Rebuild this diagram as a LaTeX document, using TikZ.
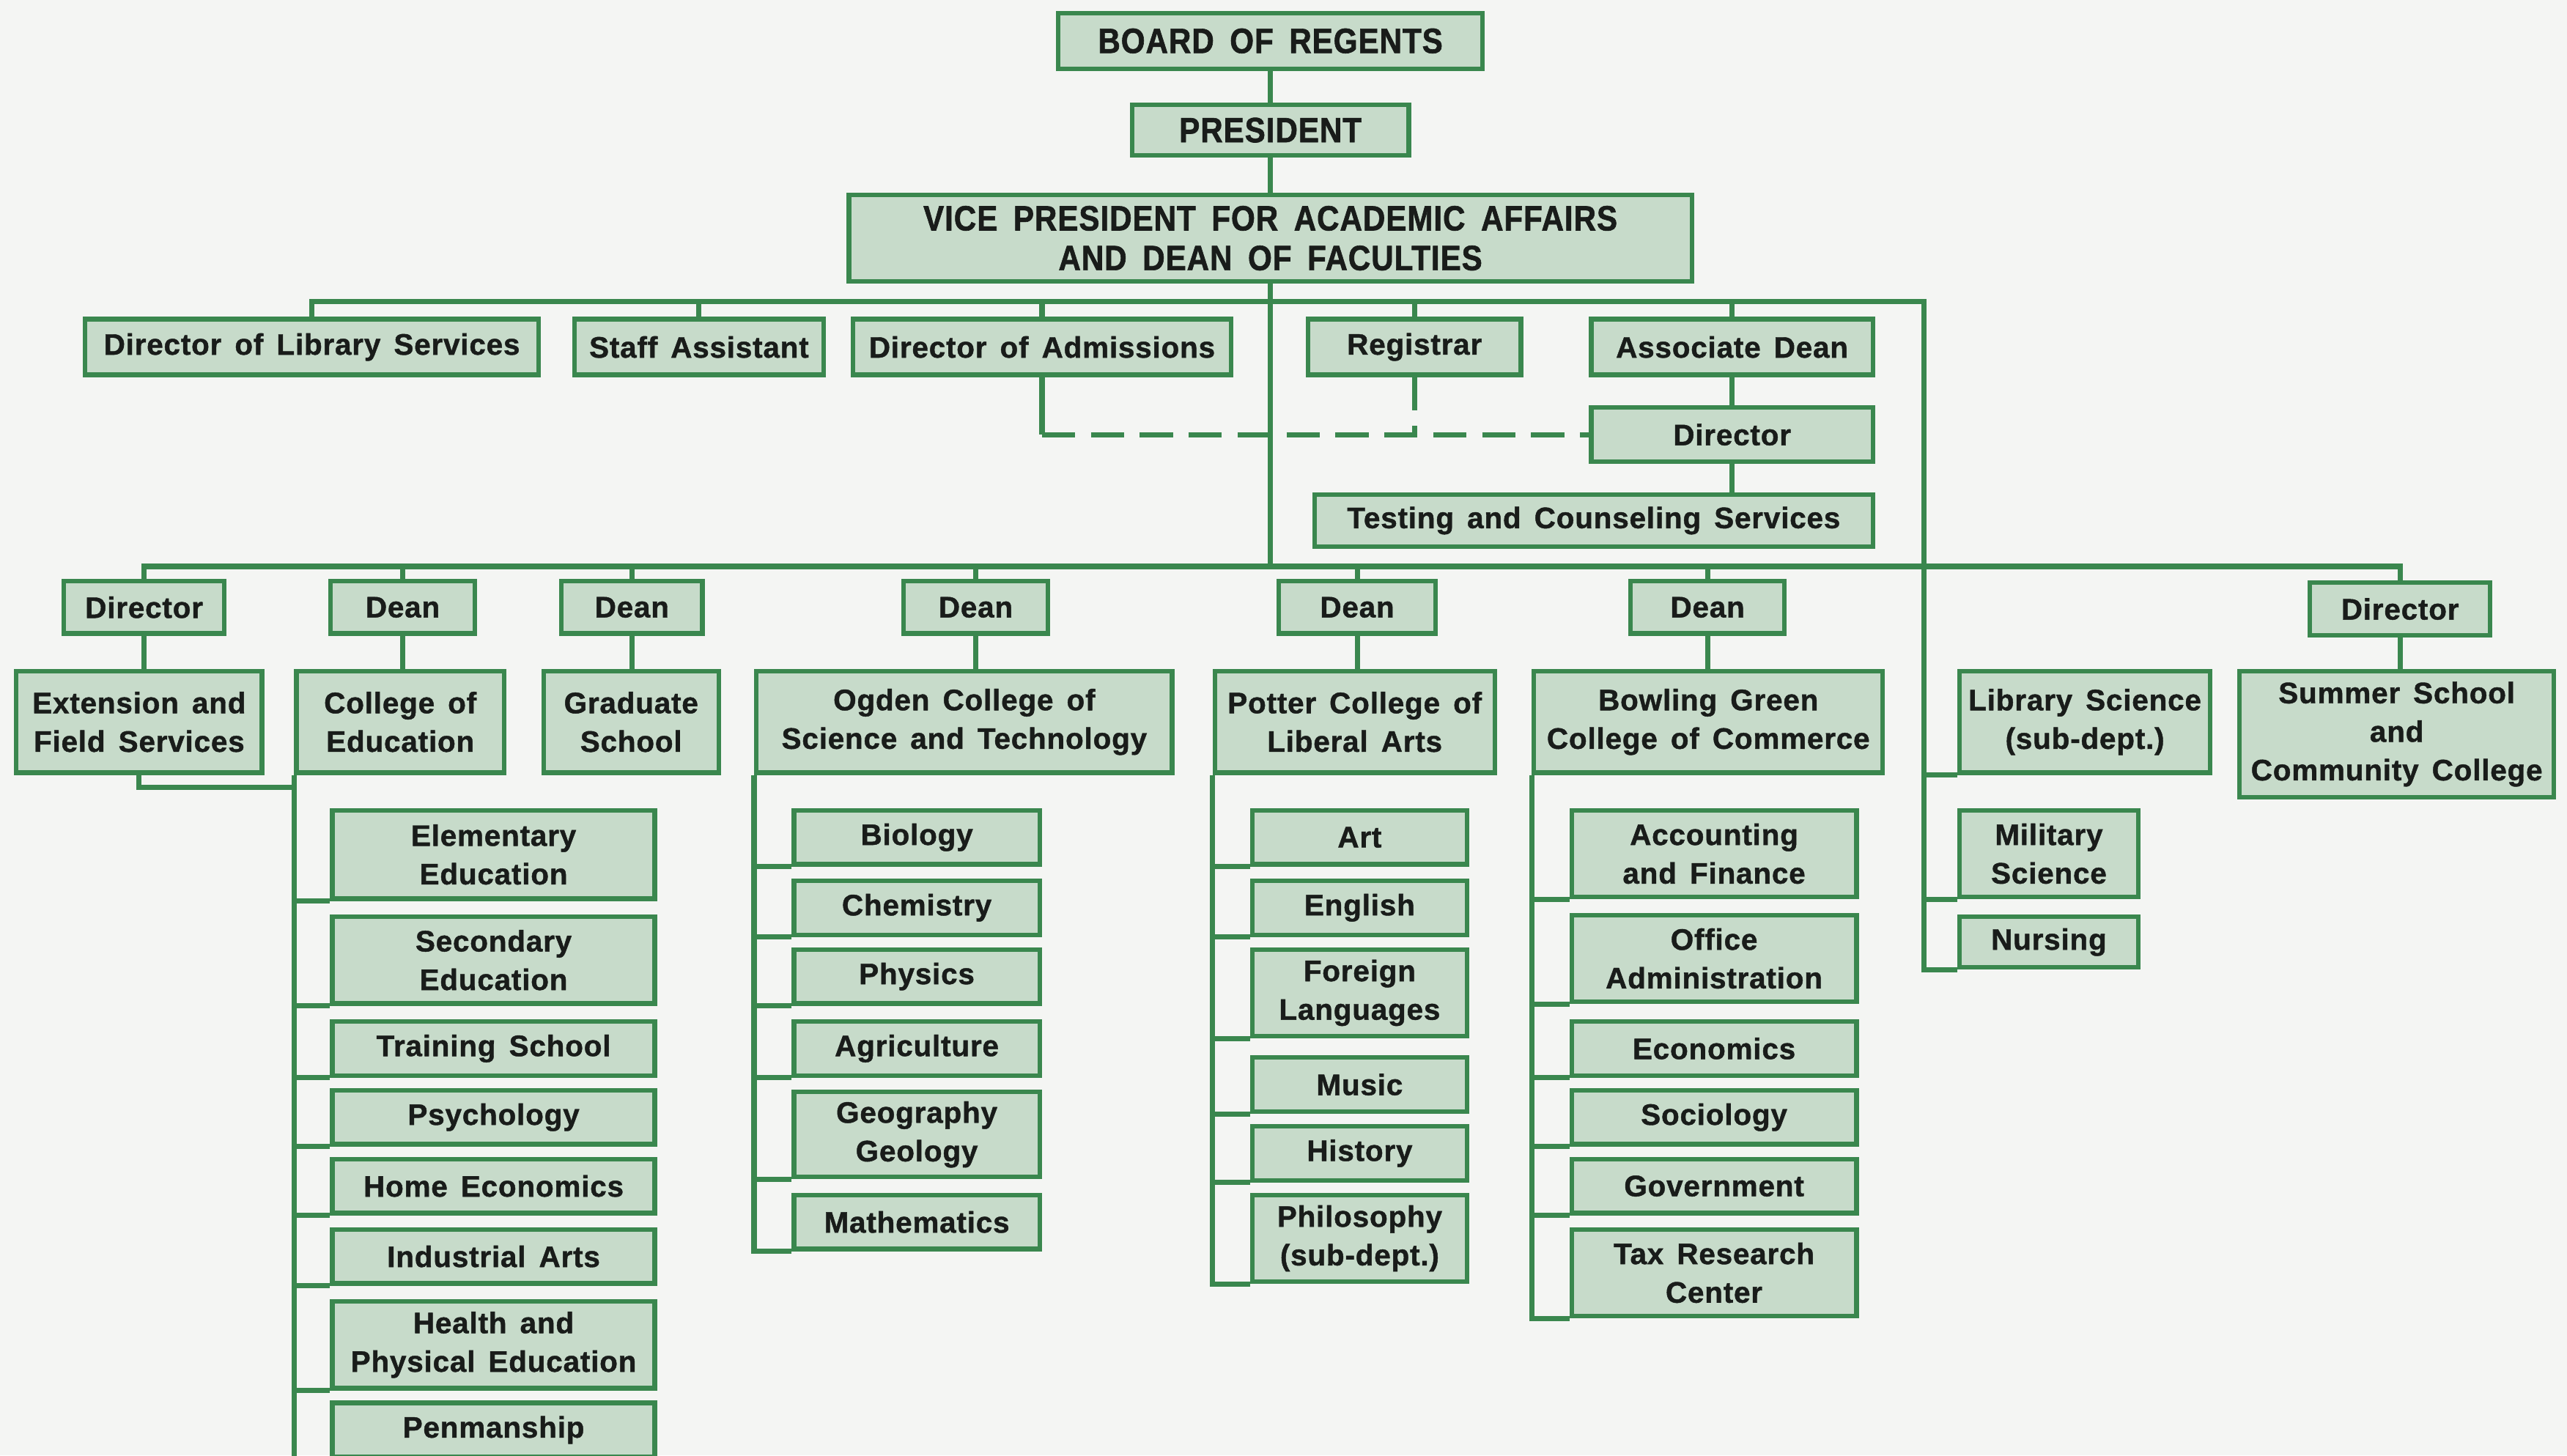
\documentclass[tikz,border=0pt]{standalone}
\usepackage{fontspec}
\setmainfont{Liberation Sans}[LetterSpace=2, WordSpace=1.5, BoldFeatures={FakeBold=1.1}]
\newfontfamily\capsfont{Liberation Sans}[FakeStretch=0.88, LetterSpace=2, WordSpace=1.7, BoldFeatures={FakeBold=1.3}]

\definecolor{boxfill}{RGB}{199,219,202}
\definecolor{boxline}{RGB}{58,135,78}
\definecolor{paper}{RGB}{244,245,243}
\definecolor{ink}{RGB}{25,28,26}

\tikzset{
    link/.style={draw=boxline,line width=1.8pt},
    dashlink/.style={link,dash pattern=on 11.5pt off 5.5pt},
    topfont/.style={font=\capsfont\bfseries\fontsize{12.2}{13.8}\selectfont}
}

\begin{document}
\begin{tikzpicture}[x=0.2mm,y=-0.2mm]
\fill[paper] (0,0) rectangle (1568,889);
\useasboundingbox (0,0) rectangle (1568,889);
\clip (0,0) rectangle (1568,889);

\begin{scope}[
    every node/.style={rectangle,draw=boxline,fill=boxfill,line width=1.6pt,inner sep=0pt,
                       align=center,text=ink,font=\bfseries\fontsize{10.3}{13.4}\selectfont}]
    \node (board) at (776, 25) [minimum width=51.8mm,minimum height=6.8mm,topfont] {BOARD OF REGENTS};
    \node (pres) at (776, 79.5) [minimum width=33.8mm,minimum height=6.2mm,topfont] {PRESIDENT};
    \node (vp) at (776, 145.5) [minimum width=103mm,minimum height=10.6mm,topfont] {VICE PRESIDENT FOR ACADEMIC AFFAIRS\\AND DEAN OF FACULTIES};

    % staff offices
    \node (lib) at (190.5, 212) [minimum width=55.4mm,minimum height=6.8mm] {Director of Library Services};
    \node (staff) at (427, 212) [minimum width=30.4mm,minimum height=6.8mm] {Staff Assistant};
    \node (adm) at (636.5, 212) [minimum width=46.2mm,minimum height=6.8mm] {Director of Admissions};
    \node (reg) at (864, 212) [minimum width=26mm,minimum height=6.8mm] {Registrar};
    \node (assoc) at (1058, 212) [minimum width=34.4mm,minimum height=6.8mm] {Associate Dean};
    \node (testdir) at (1058, 265.5) [minimum width=34.4mm,minimum height=6.6mm] {Director};
    \node (testing) at (973.5, 318) [minimum width=68.2mm,minimum height=6.4mm] {Testing and Counseling Services};

    % deans and directors
    \node (dirext) at (88, 371) [minimum width=19.6mm,minimum height=6.4mm] {Director};
    \node (deanedu) at (246, 371) [minimum width=17.6mm,minimum height=6.4mm] {Dean};
    \node (deangrad) at (386, 371) [minimum width=17.2mm,minimum height=6.4mm] {Dean};
    \node (deanog) at (596, 371) [minimum width=17.6mm,minimum height=6.4mm] {Dean};
    \node (deanpot) at (829, 371) [minimum width=19.2mm,minimum height=6.4mm] {Dean};
    \node (deanbg) at (1043, 371) [minimum width=18.8mm,minimum height=6.4mm] {Dean};
    \node (dirsum) at (1466, 372) [minimum width=22mm,minimum height=6.4mm] {Director};

    % colleges
    \node (ext) at (85, 441) [minimum width=30mm,minimum height=12.4mm] {Extension and\\Field Services};
    \node (coledu) at (244.5, 441) [minimum width=25.4mm,minimum height=12.4mm] {College of\\Education};
    \node (grad) at (385.5, 441) [minimum width=21.4mm,minimum height=12.4mm] {Graduate\\School};
    \node (ogden) at (589, 441) [minimum width=50.8mm,minimum height=12.4mm] {Ogden College of\\Science and Technology};
    \node (potter) at (827.5, 441) [minimum width=34.2mm,minimum height=12.4mm] {Potter College of\\Liberal Arts};
    \node (bg) at (1043.5, 441) [minimum width=42.6mm,minimum height=12.4mm] {Bowling Green\\College of Commerce};
    \node (libsci) at (1273.5, 441) [minimum width=30.6mm,minimum height=12.4mm] {Library Science\\(sub-dept.)};
    \node (summer) at (1464, 448.5) [minimum width=38.4mm,minimum height=15.4mm] {Summer School\\and\\Community College};

    % College of Education
    \node (elem) at (301.5, 522) [minimum width=39.4mm,minimum height=10.8mm] {Elementary\\Education};
    \node (sec) at (301.5, 586.5) [minimum width=39.4mm,minimum height=10.6mm] {Secondary\\Education};
    \node (train) at (301.5, 640.5) [minimum width=39.4mm,minimum height=6.6mm] {Training School};
    \node (psych) at (301.5, 682.5) [minimum width=39.4mm,minimum height=6.6mm] {Psychology};
    \node (home) at (301.5, 724.5) [minimum width=39.4mm,minimum height=6.6mm] {Home Economics};
    \node (indus) at (301.5, 767.5) [minimum width=39.4mm,minimum height=6.6mm] {Industrial Arts};
    \node (health) at (301.5, 821.5) [minimum width=39.4mm,minimum height=10.6mm] {Health and\\Physical Education};
    \node (penman) at (301.5, 873.5) [minimum width=39.4mm,minimum height=6.6mm] {Penmanship};

    % Ogden College
    \node (bio) at (560, 511.5) [minimum width=30mm,minimum height=6.6mm] {Biology};
    \node (chem) at (560, 554.5) [minimum width=30mm,minimum height=6.6mm] {Chemistry};
    \node (phys) at (560, 596.5) [minimum width=30mm,minimum height=6.6mm] {Physics};
    \node (agri) at (560, 640.5) [minimum width=30mm,minimum height=6.6mm] {Agriculture};
    \node (geo) at (560, 693) [minimum width=30mm,minimum height=10.4mm] {Geography\\Geology};
    \node (math) at (560, 746.5) [minimum width=30mm,minimum height=6.6mm] {Mathematics};

    % Potter College
    \node (art) at (830.5, 511.5) [minimum width=26.2mm,minimum height=6.6mm] {Art};
    \node (eng) at (830.5, 554.5) [minimum width=26.2mm,minimum height=6.6mm] {English};
    \node (forlang) at (830.5, 606.5) [minimum width=26.2mm,minimum height=10.6mm] {Foreign\\Languages};
    \node (music) at (830.5, 662.5) [minimum width=26.2mm,minimum height=6.6mm] {Music};
    \node (hist) at (830.5, 704.5) [minimum width=26.2mm,minimum height=6.6mm] {History};
    \node (phil) at (830.5, 756.5) [minimum width=26.2mm,minimum height=10.6mm] {Philosophy\\(sub-dept.)};

    % Bowling Green College
    \node (acct) at (1047, 521.5) [minimum width=34.8mm,minimum height=10.6mm] {Accounting\\and Finance};
    \node (office) at (1047, 585.5) [minimum width=34.8mm,minimum height=10.6mm] {Office\\Administration};
    \node (econ) at (1047, 640.5) [minimum width=34.8mm,minimum height=6.6mm] {Economics};
    \node (soc) at (1047, 682.5) [minimum width=34.8mm,minimum height=6.6mm] {Sociology};
    \node (gov) at (1047, 724.5) [minimum width=34.8mm,minimum height=6.6mm] {Government};
    \node (tax) at (1047, 777.5) [minimum width=34.8mm,minimum height=10.6mm] {Tax Research\\Center};

    % Library Science
    \node (mil) at (1251.5, 521.5) [minimum width=21.8mm,minimum height=10.6mm] {Military\\Science};
    \node (nurs) at (1251.5, 575.5) [minimum width=21.8mm,minimum height=6.2mm] {Nursing};
\end{scope}

\coordinate (top) at (776, 184);
\coordinate (mid) at (776, 346);
\coordinate (libtrunk) at (1175, 184);
\coordinate (extjoin) at (181, 481);

% line of command
\draw[link] (board) -- (pres);
\draw[link] (pres) -- (vp);
\draw[link] (vp.south) -- (mid);

% staff offices
\draw[link] (lib.north) |- (top);
\draw[link] (top) -- (libtrunk) -- (libtrunk |- nurs.south west) -- (nurs.south west);
\draw[link] (staff.north) -- (staff.north |- top);
\draw[link] (adm.north) -- (adm.north |- top);
\draw[link] (reg.north) -- (reg.north |- top);
\draw[link] (assoc.north) -- (assoc.north |- top);
\draw[link] (assoc) -- (testdir);
\draw[link] (testdir.south) -- (testdir.south |- testing.north);
\draw[link] (adm.south) -- (adm.south |- testdir.west);
\draw[dashlink] (adm.south |- testdir.west) -- (testdir.west);
\draw[dashlink] (reg.south) -- (reg.south |- testdir.west);

% deans
\draw[link] (dirext.north) |- (mid) -| (dirsum.north);
\draw[link] (deanedu.north) -- (deanedu.north |- mid);
\draw[link] (deangrad.north) -- (deangrad.north |- mid);
\draw[link] (deanog.north) -- (deanog.north |- mid);
\draw[link] (deanpot.north) -- (deanpot.north |- mid);
\draw[link] (deanbg.north) -- (deanbg.north |- mid);

\draw[link] (dirext.south) -- (dirext.south |- ext.north);
\draw[link] (deanedu.south) -- (deanedu.south |- coledu.north);
\draw[link] (deangrad.south) -- (deangrad.south |- grad.north);
\draw[link] (deanog.south) -- (deanog.south |- ogden.north);
\draw[link] (deanpot.south) -- (deanpot.south |- potter.north);
\draw[link] (deanbg.south) -- (deanbg.south |- bg.north);
\draw[link] (dirsum.south) -- (dirsum.south |- summer.north);

% departments
\draw[link] (ext.south) |- (extjoin);
\draw[link] (coledu.south west) -- (coledu.south west |- penman.south west);
\draw[link] (elem.south west) -- (elem.south west -| coledu.west);
\draw[link] (sec.south west) -- (sec.south west -| coledu.west);
\draw[link] (train.south west) -- (train.south west -| coledu.west);
\draw[link] (psych.south west) -- (psych.south west -| coledu.west);
\draw[link] (home.south west) -- (home.south west -| coledu.west);
\draw[link] (indus.south west) -- (indus.south west -| coledu.west);
\draw[link] (health.south west) -- (health.south west -| coledu.west);
\draw[link] (penman.south west) -- (penman.south west -| coledu.west);

\draw[link] (ogden.south west) -- (ogden.south west |- math.south west) -- (math.south west);
\draw[link] (bio.south west) -- (bio.south west -| ogden.west);
\draw[link] (chem.south west) -- (chem.south west -| ogden.west);
\draw[link] (phys.south west) -- (phys.south west -| ogden.west);
\draw[link] (agri.south west) -- (agri.south west -| ogden.west);
\draw[link] (geo.south west) -- (geo.south west -| ogden.west);

\draw[link] (potter.south west) -- (potter.south west |- phil.south west) -- (phil.south west);
\draw[link] (art.south west) -- (art.south west -| potter.west);
\draw[link] (eng.south west) -- (eng.south west -| potter.west);
\draw[link] (forlang.south west) -- (forlang.south west -| potter.west);
\draw[link] (music.south west) -- (music.south west -| potter.west);
\draw[link] (hist.south west) -- (hist.south west -| potter.west);

\draw[link] (bg.south west) -- (bg.south west |- tax.south west) -- (tax.south west);
\draw[link] (acct.south west) -- (acct.south west -| bg.west);
\draw[link] (office.south west) -- (office.south west -| bg.west);
\draw[link] (econ.south west) -- (econ.south west -| bg.west);
\draw[link] (soc.south west) -- (soc.south west -| bg.west);
\draw[link] (gov.south west) -- (gov.south west -| bg.west);

\draw[link] (libsci.south west) -- (libsci.south west -| libtrunk);
\draw[link] (mil.south west) -- (mil.south west -| libtrunk);
\end{tikzpicture}
\end{document}
